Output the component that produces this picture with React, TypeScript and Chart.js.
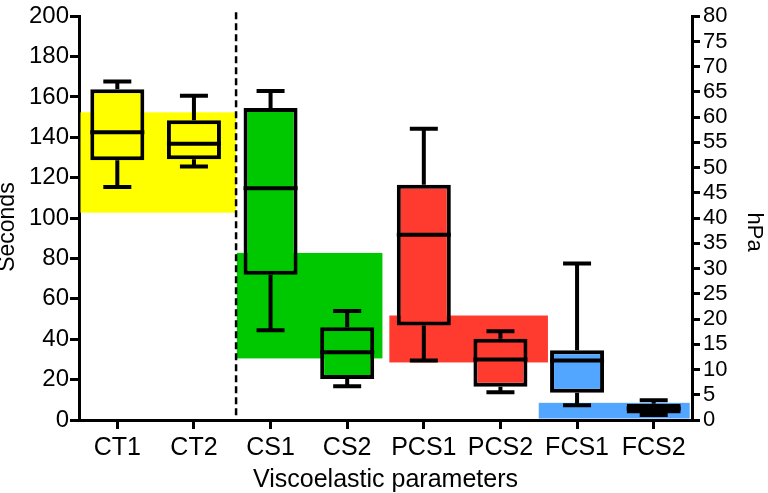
import React, { useEffect, useRef } from 'react';
import { Chart, registerables } from 'chart.js';

Chart.register(...registerables);

// ---- data ----
const categories = ['CT1', 'CT2', 'CS1', 'CS2', 'PCS1', 'PCS2', 'FCS1', 'FCS2'];
const units = ['s', 's', 'hPa', 'hPa', 'hPa', 'hPa', 'hPa', 'hPa'];
const whiskerLow = [115.4, 125.6, 17.8, 6.7, 11.8, 5.5, 2.9, 1.0];
const q1 = [128.7, 129.2, 28.8, 8.1, 18.7, 6.6, 5.4, 1.3];
const median = [142.5, 136.8, 45.9, 13.4, 36.7, 12.0, 11.8, 2.3];
const q3 = [163.8, 148.5, 61.8, 18.4, 46.6, 16.1, 13.8, 3.2];
const whiskerHigh = [167.7, 160.6, 65.2, 21.6, 57.7, 17.6, 31.0, 3.9];
const groupOf = [0, 0, 1, 1, 2, 2, 3, 3];

// reference ranges per parameter group
const refGroups = ['CT', 'CS', 'PCS', 'FCS'];
const refUnits = ['s', 'hPa', 'hPa', 'hPa'];
const refLow = [102.7, 12.2, 11.4, 0.3];
const refHigh = [152.4, 33.1, 20.7, 3.4];

// axes
const secondsMin = 0;
const secondsMax = 200;
const secondsStep = 20;
const hPaMin = 0;
const hPaMax = 80;
const hPaStep = 5;
const xTitle = 'Viscoelastic parameters';
const yTitle = 'Seconds';
const y2Title = 'hPa';

// ---- layout / style ----
const groupColors = ['#ffff00', '#00c800', '#ff3b30', '#52a6ff'];
const bandSpans = [
  [-0.5, 1.55],
  [1.56, 3.46],
  [3.55, 5.62],
  [5.5, 7.47],
];
const dividerAt = 1.55;
const FONT = "'Liberation Sans', Arial, Helvetica, sans-serif";
const LW = 4;
const CAP_HALF = 14;

const axisFor = (u: string) => (u === 's' ? 'y' : 'y2');

const boxPlugin = {
  id: 'boxExtras',
  beforeDatasetsDraw(chart: any) {
    const { ctx, chartArea, scales } = chart;
    const xs = scales.x;
    ctx.save();
    refGroups.forEach((_g, g) => {
      const ys = scales[axisFor(refUnits[g])];
      const x0 = Math.max(xs.getPixelForValue(bandSpans[g][0]), chartArea.left + 1.5);
      const x1 = Math.min(xs.getPixelForValue(bandSpans[g][1]), chartArea.right - 1.5);
      const yTop = ys.getPixelForValue(refHigh[g]);
      const yBot = Math.min(ys.getPixelForValue(refLow[g]), chartArea.bottom - 1.5);
      ctx.fillStyle = groupColors[g];
      ctx.fillRect(x0, yTop, x1 - x0, yBot - yTop);
    });
    const dx = xs.getPixelForValue(dividerAt);
    ctx.setLineDash([7, 4]);
    ctx.lineWidth = 2.5;
    ctx.strokeStyle = '#000';
    ctx.beginPath();
    ctx.moveTo(dx, chartArea.top - 4);
    ctx.lineTo(dx, chartArea.bottom);
    ctx.stroke();
    ctx.restore();
  },
  afterDatasetsDraw(chart: any) {
    const { ctx, scales } = chart;
    const xs = scales.x;
    ctx.save();
    ctx.strokeStyle = '#000';
    ctx.lineWidth = LW;
    ctx.lineCap = 'butt';
    categories.forEach((_c, i) => {
      const ys = scales[axisFor(units[i])];
      const meta = chart.getDatasetMeta(units[i] === 's' ? 0 : 1);
      const el = meta.data[i];
      const half = el ? el.width / 2 : 27;
      const cx = xs.getPixelForValue(i);
      const yMed = ys.getPixelForValue(median[i]);
      const yQ1 = ys.getPixelForValue(q1[i]);
      const yQ3 = ys.getPixelForValue(q3[i]);
      const yLo = ys.getPixelForValue(whiskerLow[i]);
      const yHi = ys.getPixelForValue(whiskerHigh[i]);
      ctx.beginPath();
      ctx.moveTo(cx - half, yMed);
      ctx.lineTo(cx + half, yMed);
      ctx.moveTo(cx, yQ3);
      ctx.lineTo(cx, yHi);
      ctx.moveTo(cx - CAP_HALF, yHi);
      ctx.lineTo(cx + CAP_HALF, yHi);
      ctx.moveTo(cx, yQ1);
      ctx.lineTo(cx, yLo);
      ctx.moveTo(cx - CAP_HALF, yLo);
      ctx.lineTo(cx + CAP_HALF, yLo);
      ctx.stroke();
    });
    ctx.restore();
  },
  afterDraw(chart: any) {
    const { ctx, chartArea } = chart;
    const mid = (chartArea.top + chartArea.bottom) / 2;
    ctx.save();
    ctx.fillStyle = '#000';
    ctx.textAlign = 'center';
    ctx.textBaseline = 'middle';
    ctx.save();
    ctx.font = `23px ${FONT}`;
    ctx.translate(8, mid + 9);
    ctx.rotate(-Math.PI / 2);
    ctx.fillText(yTitle, 0, 0);
    ctx.restore();
    ctx.save();
    ctx.font = `22px ${FONT}`;
    ctx.translate(chart.width - 14, mid + 14);
    ctx.rotate(Math.PI / 2);
    ctx.fillText(y2Title, 0, 0);
    ctx.restore();
    ctx.restore();
  },
};

export default function App() {
  const ref = useRef<HTMLCanvasElement | null>(null);

  useEffect(() => {
    if (!ref.current) return;
    Chart.defaults.font.family = FONT;
    Chart.defaults.color = '#000';

    const colors = categories.map((_c, i) => groupColors[groupOf[i]]);
    const mk = (u: string) =>
      categories.map((_c, i) => (units[i] === u ? [q1[i], q3[i]] : null));

    const common = {
      backgroundColor: colors,
      borderColor: '#000',
      borderWidth: LW,
      borderSkipped: false,
      grouped: false,
      barPercentage: 0.705,
      categoryPercentage: 1,
    };

    const axisGrid = (len: number) => ({
      display: true,
      drawOnChartArea: false,
      drawTicks: true,
      tickLength: len,
      lineWidth: 3,
      color: '#000',
    });
    const border = { display: true, color: '#000', width: 3 };

    const chart = new Chart(ref.current, {
      type: 'bar',
      data: {
        labels: categories,
        datasets: [
          { label: 'Seconds', yAxisID: 'y', data: mk('s') as any, ...common },
          { label: 'hPa', yAxisID: 'y2', data: mk('hPa') as any, ...common },
        ],
      },
      options: {
        responsive: false,
        maintainAspectRatio: false,
        animation: false,
        layout: { padding: { top: 14, left: 0, right: 0, bottom: 0 } },
        plugins: {
          legend: { display: false },
          tooltip: { enabled: false },
        },
        scales: {
          x: {
            type: 'category',
            offset: true,
            grid: { ...axisGrid(9), offset: false },
            border,
            ticks: {
              color: '#000',
              font: { size: 25, family: FONT },
              padding: 4,
              maxRotation: 0,
              autoSkip: false,
            },
            title: {
              display: true,
              text: xTitle,
              color: '#000',
              font: { size: 25, family: FONT, lineHeight: 1 },
              padding: { top: 0, bottom: 0 },
            },
            afterFit: (s: any) => {
              s.height = 73;
            },
          },
          y: {
            position: 'left',
            min: secondsMin,
            max: secondsMax,
            grid: axisGrid(9),
            border,
            ticks: {
              stepSize: secondsStep,
              color: '#000',
              font: { size: 24, family: FONT },
              padding: 1,
              autoSkip: false,
            },
            title: { display: false },
            afterFit: (s: any) => {
              s.width = 79;
            },
          },
          y2: {
            position: 'right',
            min: hPaMin,
            max: hPaMax,
            grid: axisGrid(8),
            border,
            ticks: {
              stepSize: hPaStep,
              color: '#000',
              font: { size: 22, family: FONT },
              padding: 3,
              autoSkip: false,
            },
            title: { display: false },
            afterFit: (s: any) => {
              s.width = 76;
            },
          },
        },
      } as any,
      plugins: [boxPlugin],
    });
    return () => chart.destroy();
  }, []);

  return (
    <div style={{ position: 'absolute', left: 0, top: 0, width: 768, height: 493, background: '#fff' }}>
      <canvas ref={ref} width={768} height={493} style={{ display: 'block' }} />
    </div>
  );
}
